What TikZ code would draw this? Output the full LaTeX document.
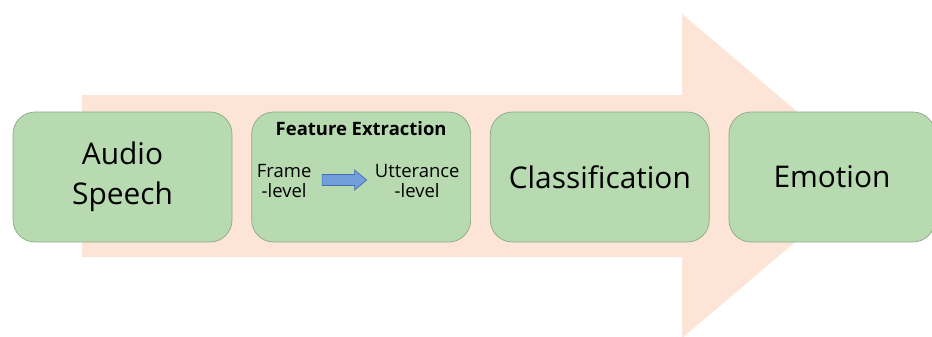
\documentclass[tikz,border=0pt]{standalone}
\usepackage{fontspec}
\setmainfont{Open Sans}
\usetikzlibrary{positioning, calc}
\definecolor{peach}{RGB}{252,228,214}
\definecolor{boxgreen}{RGB}{184,218,176}
\definecolor{boxline}{RGB}{138,168,134}
\definecolor{flowblue}{RGB}{114,158,220}
\definecolor{flowline}{RGB}{68,108,178}

\begin{document}
\begin{tikzpicture}[
    x=0.02cm, y=0.02cm,
    stage/.style={rectangle, rounded corners=0.44cm, draw=boxline, fill=boxgreen, minimum width=4.38cm, minimum height=2.6cm, align=center, inner sep=0pt, font=\fontsize{17}{23}\selectfont},
    small/.style={align=center, inner sep=0pt, font=\fontsize{10.5}{11.5}\selectfont},
    flow/.style={draw=flowline, fill=flowblue, line join=miter}
]
    \useasboundingbox (0,0) rectangle (932,336);

    % Big background arrow
    \fill[peach] (82,241) -- (682,241) -- (682,322) -- (873,160) -- (682,-2) -- (682,79) -- (82,79) -- cycle;

    % Stages
    \node[stage] (audio) at (122.5,159) {Audio\\Speech};
    \node[stage, right=0.38cm of audio] (feat) {};
    \node[stage, right=0.38cm of feat] (classify) {Classification};
    \node[stage, right=0.38cm of classify, minimum width=4.12cm] (emotion) {Emotion};

    % Inside feature extraction
    \node[small, font=\fontsize{10.5}{11.5}\selectfont\bfseries, below=0.18cm of feat.north] (feattitle) {Feature Extraction};
    \node[small] (frame) at ($(feat.center)+(-77,-4)$) {Frame\\-level};
    \node[small] (utter) at ($(feat.center)+(56,-4)$) {Utterance\\-level};

    % Frame -> utterance
    \coordinate (mid) at ($(frame.east)!0.5!(utter.west)+(1,1)$);
    \draw[flow] ($(mid)+(-22,-5.5)$) -- ++(32.5,0) -- ++(0,-4.5) -- ++(12,10) -- ++(-12,10) -- ++(0,-4.5) -- ++(-32.5,0) -- cycle;
\end{tikzpicture}
\end{document}
